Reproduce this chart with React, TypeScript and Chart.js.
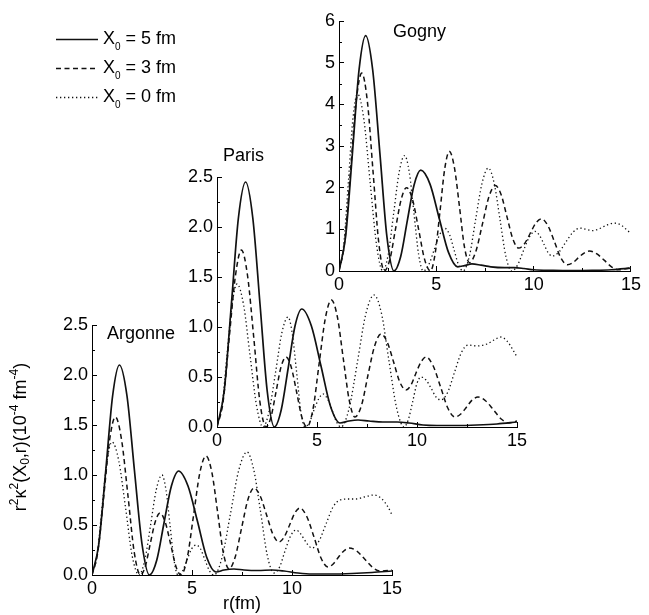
import React, { useEffect, useRef } from 'react';
import { Chart, registerables } from 'chart.js';

Chart.register(...registerables);

type Pt = [number, number];

const FIG_W = 649;
const FIG_H = 615;
const FONT = '"Liberation Sans", Arial, Helvetica, sans-serif';

// ---------- data ----------
const panelNames = ['Argonne', 'Paris', 'Gogny'];
const legendValues = ['5', '3', '0']; // X0 values in fm
const xTickStep = 5;
const xMax = 15;
const xMinorTicks = [2.5, 7.5, 12.5];
const yMinorSmall = [0.25, 0.75, 1.25, 1.75, 2.25];
const yMinorGogny = [0.5, 1.5, 2.5, 3.5, 4.5, 5.5];
const xAxisTitle = 'r(fm)';
// y title pieces: [text, kind] with kind n = normal, p = superscript, b = subscript
const yAxisTitle: [string, string][] = [
  ['r', 'n'], ['2', 'p'], ['κ', 'n'], ['2', 'p'], ['(X', 'n'], ['0', 'b'], [',r)(10', 'n'],
  ['-4', 'p'], [' fm', 'n'], ['-4', 'p'], [')', 'n'],
];

const argonneSolid: Pt[] = [
  [0, 0], [0.34, 0.31], [0.69, 1.05], [1.03, 1.79], [1.37, 2.1], [1.75, 1.79], [2.12, 1.05], [2.5, 0.31], [2.87, 0],
  [3.24, 0.15], [3.6, 0.52], [3.97, 0.89], [4.33, 1.04], [4.8, 0.89], [5.27, 0.54], [5.73, 0.18], [6.2, 0.03],
  [6.6, 0.05], [7.1, 0.06], [7.6, 0.05], [8.3, 0.045], [9.0, 0.05], [9.6, 0.04], [10.3, 0.02], [11, 0.01],
  [12, 0.01], [13, 0.015], [14, 0.025], [15, 0.04],
];
const argonneDashed: Pt[] = [
  [0, 0], [0.29, 0.23], [0.59, 0.79], [0.88, 1.35], [1.17, 1.58], [1.48, 1.35], [1.8, 0.79], [2.11, 0.23], [2.42, 0],
  [2.67, 0.09], [2.91, 0.31], [3.16, 0.53], [3.4, 0.62], [3.66, 0.53], [3.93, 0.31], [4.19, 0.09], [4.45, 0],
  [4.76, 0.17], [5.08, 0.6], [5.39, 1.02], [5.7, 1.19], [5.99, 1.03], [6.28, 0.63], [6.56, 0.23], [6.85, 0.06],
  [7.16, 0.18], [7.48, 0.47], [7.79, 0.75], [8.1, 0.87], [8.41, 0.79], [8.73, 0.6], [9.04, 0.41], [9.35, 0.33],
  [9.61, 0.38], [9.88, 0.5], [10.14, 0.62], [10.4, 0.67], [10.75, 0.58], [11.1, 0.38], [11.45, 0.17], [11.8, 0.08],
  [12.06, 0.11], [12.33, 0.18], [12.59, 0.24], [12.85, 0.27], [13.24, 0.24], [13.63, 0.16], [14.01, 0.08], [14.4, 0.04],
  [15, 0.05],
];
const argonneDotted: Pt[] = [
  [0, 0], [0.25, 0.19], [0.5, 0.67], [0.75, 1.14], [1.0, 1.33], [1.34, 1.14], [1.68, 0.67], [2.01, 0.19], [2.35, 0],
  [2.64, 0.15], [2.93, 0.5], [3.21, 0.85], [3.5, 1.0], [3.7, 0.85], [3.9, 0.5], [4.1, 0.15], [4.3, 0],
  [4.53, 0.04], [4.75, 0.15], [4.98, 0.26], [5.2, 0.3], [5.43, 0.26], [5.65, 0.15], [5.88, 0.04], [6.1, 0],
  [6.51, 0.18], [6.93, 0.62], [7.34, 1.05], [7.75, 1.23], [8.09, 1.05], [8.43, 0.63], [8.76, 0.2], [9.1, 0.02],
  [9.38, 0.08], [9.65, 0.24], [9.93, 0.39], [10.2, 0.45], [10.4, 0.42], [10.6, 0.36], [10.8, 0.3], [11.0, 0.27],
  [11.35, 0.34], [11.7, 0.51], [12.05, 0.68], [12.4, 0.75], [12.8, 0.76], [13.2, 0.76], [13.6, 0.78], [14.1, 0.8],
  [14.5, 0.76], [14.8, 0.68], [15, 0.6],
];

const parisSolid: Pt[] = [
  [0, 0], [0.36, 0.36], [0.72, 1.23], [1.07, 2.09], [1.43, 2.45], [1.79, 2.09], [2.15, 1.23], [2.51, 0.36], [2.87, 0],
  [3.21, 0.17], [3.56, 0.59], [3.9, 1.01], [4.24, 1.18], [4.72, 1.01], [5.2, 0.61], [5.67, 0.21], [6.15, 0.04],
  [6.6, 0.06], [7.05, 0.07], [7.6, 0.06], [8.3, 0.05], [9.0, 0.05], [9.6, 0.04], [10.3, 0.02], [11, 0.015],
  [12, 0.015], [13, 0.02], [14, 0.03], [15, 0.05],
];
const parisDashed: Pt[] = [
  [0, 0], [0.31, 0.26], [0.61, 0.89], [0.92, 1.51], [1.22, 1.77], [1.53, 1.51], [1.84, 0.89], [2.14, 0.26], [2.45, 0],
  [2.7, 0.1], [2.95, 0.35], [3.2, 0.6], [3.45, 0.7], [3.71, 0.6], [3.98, 0.35], [4.24, 0.1], [4.5, 0],
  [4.81, 0.19], [5.11, 0.64], [5.42, 1.09], [5.72, 1.27], [6.02, 1.1], [6.31, 0.69], [6.61, 0.27], [6.9, 0.1],
  [7.23, 0.22], [7.55, 0.52], [7.88, 0.81], [8.2, 0.93], [8.51, 0.85], [8.83, 0.65], [9.14, 0.45], [9.45, 0.37],
  [9.7, 0.42], [9.95, 0.54], [10.2, 0.65], [10.45, 0.7], [10.81, 0.61], [11.18, 0.4], [11.54, 0.19], [11.9, 0.1],
  [12.19, 0.13], [12.48, 0.2], [12.76, 0.27], [13.05, 0.3], [13.44, 0.26], [13.83, 0.17], [14.21, 0.08], [14.6, 0.04],
  [15, 0.06],
];
const parisDotted: Pt[] = [
  [0, 0], [0.25, 0.21], [0.5, 0.72], [0.75, 1.22], [1.0, 1.43], [1.33, 1.22], [1.65, 0.72], [1.98, 0.21], [2.3, 0],
  [2.61, 0.16], [2.93, 0.55], [3.24, 0.94], [3.55, 1.1], [3.76, 0.94], [3.98, 0.55], [4.19, 0.16], [4.4, 0],
  [4.63, 0.05], [4.85, 0.17], [5.08, 0.28], [5.3, 0.33], [5.53, 0.28], [5.75, 0.17], [5.98, 0.05], [6.2, 0],
  [6.61, 0.19], [7.03, 0.66], [7.44, 1.13], [7.85, 1.32], [8.23, 1.13], [8.6, 0.66], [8.98, 0.19], [9.35, 0],
  [9.56, 0.07], [9.78, 0.25], [9.99, 0.43], [10.2, 0.5], [10.45, 0.47], [10.7, 0.39], [10.95, 0.3], [11.2, 0.27],
  [11.54, 0.35], [11.88, 0.55], [12.21, 0.74], [12.55, 0.82], [13.0, 0.81], [13.5, 0.83], [13.85, 0.87], [14.2, 0.9],
  [14.5, 0.86], [14.8, 0.77], [15, 0.7],
];

const gognySolid: Pt[] = [
  [0, 0], [0.34, 0.83], [0.69, 2.83], [1.03, 4.83], [1.37, 5.65], [1.73, 4.83], [2.1, 2.83], [2.46, 0.83], [2.82, 0],
  [3.17, 0.35], [3.51, 1.21], [3.86, 2.07], [4.2, 2.42], [4.68, 2.08], [5.15, 1.26], [5.63, 0.44], [6.1, 0.1],
  [6.45, 0.13], [6.83, 0.17], [7.3, 0.14], [7.8, 0.1], [8.5, 0.08], [9.0, 0.08], [9.5, 0.06], [10, 0.03],
  [11, 0.015], [12, 0.01], [13, 0.015], [14, 0.03], [15, 0.07],
];
const gognyDashed: Pt[] = [
  [0, 0], [0.29, 0.69], [0.59, 2.38], [0.88, 4.06], [1.17, 4.75], [1.46, 4.06], [1.75, 2.38], [2.04, 0.69], [2.33, 0],
  [2.62, 0.29], [2.9, 1.0], [3.19, 1.71], [3.47, 2.0], [3.78, 1.71], [4.09, 1.0], [4.39, 0.29], [4.7, 0],
  [4.94, 0.42], [5.19, 1.44], [5.43, 2.45], [5.67, 2.87], [5.93, 2.48], [6.19, 1.54], [6.44, 0.59], [6.7, 0.2],
  [7.03, 0.47], [7.37, 1.13], [7.7, 1.78], [8.03, 2.05], [8.33, 1.83], [8.63, 1.3], [8.93, 0.77], [9.23, 0.55],
  [9.52, 0.65], [9.82, 0.9], [10.11, 1.15], [10.4, 1.25], [10.73, 1.09], [11.07, 0.7], [11.4, 0.31], [11.73, 0.15],
  [12.02, 0.2], [12.3, 0.32], [12.59, 0.43], [12.87, 0.48], [13.25, 0.41], [13.62, 0.26], [14.0, 0.1], [14.37, 0.03],
  [15, 0.08],
];
const gognyDotted: Pt[] = [
  [0, 0], [0.24, 0.62], [0.48, 2.13], [0.71, 3.63], [0.95, 4.25], [1.28, 3.63], [1.6, 2.13], [1.93, 0.62], [2.25, 0],
  [2.53, 0.4], [2.81, 1.39], [3.09, 2.37], [3.37, 2.77], [3.61, 2.37], [3.85, 1.39], [4.09, 0.4], [4.33, 0],
  [4.61, 0.15], [4.89, 0.51], [5.17, 0.87], [5.45, 1.02], [5.68, 0.87], [5.91, 0.51], [6.14, 0.15], [6.37, 0],
  [6.7, 0.36], [7.02, 1.24], [7.35, 2.11], [7.67, 2.47], [7.97, 2.11], [8.27, 1.24], [8.57, 0.36], [8.87, 0],
  [9.17, 0.14], [9.47, 0.48], [9.77, 0.81], [10.07, 0.95], [10.29, 0.86], [10.51, 0.66], [10.73, 0.45], [10.95, 0.36],
  [11.31, 0.46], [11.66, 0.7], [12.02, 0.93], [12.37, 1.03], [12.7, 1.0], [13.03, 0.97], [13.4, 1.02], [13.75, 1.1],
  [14.12, 1.15], [14.5, 1.1], [14.8, 0.98], [15, 0.9],
];

// ---------- styles ----------
const lineStyles = [
  { width: 1.7, dash: [] as number[] },
  { width: 1.5, dash: [5, 3.5] },
  { width: 1.3, dash: [1.3, 2.7] },
];
const INK = '#111';

interface PanelSpec {
  name: string;
  series: Pt[][];
  yMax: number;
  yStep: number;
  yDecimals: number;
  yMinor: number[];
  area: { l: number; t: number; r: number; b: number };
  yAxisW: number;
  xAxisH: number;
  label: { dx: number; dy: number };
  yTitle?: boolean;
  xTitle?: string;
  legend?: boolean;
}

const panels: PanelSpec[] = [
  {
    name: panelNames[0], series: [argonneSolid, argonneDashed, argonneDotted],
    yMax: 2.5, yStep: 0.5, yDecimals: 1, yMinor: yMinorSmall,
    area: { l: 92, t: 325, r: 392, b: 575 }, yAxisW: 84, xAxisH: 40,
    label: { dx: 15, dy: 9 },
    yTitle: true, xTitle: xAxisTitle,
  },
  {
    name: panelNames[1], series: [parisSolid, parisDashed, parisDotted],
    yMax: 2.5, yStep: 0.5, yDecimals: 1, yMinor: yMinorSmall,
    area: { l: 217, t: 177, r: 517, b: 427 }, yAxisW: 40, xAxisH: 30,
    label: { dx: 6, dy: -21 },
  },
  {
    name: panelNames[2], series: [gognySolid, gognyDashed, gognyDotted],
    yMax: 6, yStep: 1, yDecimals: 0, yMinor: yMinorGogny,
    area: { l: 339, t: 21, r: 639, b: 271 }, yAxisW: 40, xAxisH: 30,
    label: { dx: 54, dy: 11 },
    legend: true,
  },
];

function makePlugins(spec: PanelSpec) {
  const minor = {
    id: 'minorTicks',
    afterDraw(chart: any) {
      const { ctx, chartArea: a, scales } = chart;
      const x = scales.x, y = scales.y;
      ctx.save();
      ctx.strokeStyle = '#000';
      ctx.lineWidth = 1;
      ctx.beginPath();
      xMinorTicks.forEach((v) => {
        const px = Math.round(x.getPixelForValue(v)) + 0.5;
        ctx.moveTo(px, a.bottom);
        ctx.lineTo(px, a.bottom - 3);
      });
      spec.yMinor.forEach((v) => {
        const py = Math.round(y.getPixelForValue(v)) + 0.5;
        ctx.moveTo(a.left, py);
        ctx.lineTo(a.left + 3, py);
      });
      ctx.stroke();
      ctx.restore();
    },
  };
  const label = {
    id: 'panelLabel',
    afterDraw(chart: any) {
      const { ctx, chartArea: a } = chart;
      ctx.save();
      ctx.font = `18px ${FONT}`;
      ctx.fillStyle = '#000';
      ctx.textAlign = 'left';
      ctx.textBaseline = 'middle';
      ctx.fillText(spec.name, a.left + spec.label.dx, a.top + spec.label.dy);
      ctx.restore();
    },
  };
  const list: any[] = [minor, label];
  if (spec.yTitle) {
    list.push({
      id: 'richYTitle',
      afterDraw(chart: any) {
        const { ctx, chartArea: a } = chart;
        const fontFor = (k: string) => (k === 'n' ? `18px ${FONT}` : `12px ${FONT}`);
        const shift = (k: string) => (k === 'p' ? -6 : k === 'b' ? 5 : 0);
        ctx.save();
        let total = 0;
        yAxisTitle.forEach(([t, k]) => { ctx.font = fontFor(k); total += ctx.measureText(t).width; });
        ctx.translate(21, a.top + 112);
        ctx.rotate(-Math.PI / 2);
        ctx.fillStyle = '#000';
        ctx.textBaseline = 'middle';
        ctx.textAlign = 'left';
        let x = -total / 2;
        yAxisTitle.forEach(([t, k]) => {
          ctx.font = fontFor(k);
          ctx.fillText(t, x, shift(k));
          x += ctx.measureText(t).width;
        });
        ctx.restore();
      },
    });
  }
  if (spec.legend) {
    list.push({
      id: 'figLegend',
      afterDraw(chart: any) {
        const { ctx } = chart;
        ctx.save();
        legendValues.forEach((val, i) => {
          const y = 39 + i * 29;
          const st = lineStyles[i];
          ctx.strokeStyle = INK;
          ctx.lineWidth = st.width;
          ctx.setLineDash(st.dash);
          ctx.beginPath();
          ctx.moveTo(56, y + 0.5);
          ctx.lineTo(98, y + 0.5);
          ctx.stroke();
          ctx.setLineDash([]);
          ctx.fillStyle = '#000';
          ctx.textBaseline = 'middle';
          ctx.textAlign = 'left';
          ctx.font = `18px ${FONT}`;
          let x = 103;
          ctx.fillText('X', x, y);
          x += ctx.measureText('X').width;
          ctx.font = `10px ${FONT}`;
          ctx.fillText('0', x, y + 8);
          x += ctx.measureText('0').width;
          ctx.font = `18px ${FONT}`;
          ctx.fillText(` = ${val} fm`, x, y);
        });
        ctx.restore();
      },
    });
  }
  return list;
}

function buildChart(canvas: HTMLCanvasElement, spec: PanelSpec) {
  const datasets = spec.series.map((pts, i) => ({
    label: `X0 = ${legendValues[i]} fm`,
    data: pts.map(([x, y]) => ({ x, y })),
    borderColor: INK,
    borderWidth: lineStyles[i].width,
    borderDash: lineStyles[i].dash,
    pointRadius: 0,
    fill: false,
    cubicInterpolationMode: 'monotone' as const,
  }));
  const tickFont = { family: FONT, size: 18 };
  const grid = {
    display: true,
    drawOnChartArea: false,
    drawTicks: true,
    tickLength: -5,
    color: '#000',
    tickColor: '#000',
    lineWidth: 1,
  };
  const border = { display: true, color: '#000', width: 1 };
  return new Chart(canvas, {
    type: 'line',
    data: { datasets },
    options: {
      animation: false,
      responsive: false,
      devicePixelRatio: 1,
      events: [],
      layout: {
        padding: {
          left: spec.area.l - spec.yAxisW,
          top: spec.area.t,
          right: FIG_W - spec.area.r,
          bottom: FIG_H - spec.area.b - spec.xAxisH,
        },
      },
      plugins: {
        legend: { display: false },
        tooltip: { enabled: false },
        title: { display: false },
      },
      scales: {
        x: {
          type: 'linear',
          min: 0,
          max: xMax,
          grid,
          border,
          ticks: {
            stepSize: xTickStep,
            color: '#000',
            font: tickFont,
            padding: 8,
            maxRotation: 0,
            autoSkip: false,
            callback: (v: any) => String(v),
          },
          title: spec.xTitle
            ? { display: true, text: spec.xTitle, color: '#000', font: { family: FONT, size: 18 }, padding: { top: 0, bottom: 0 } }
            : { display: false },
          afterFit: (s: any) => { s.height = spec.xAxisH; },
        },
        y: {
          type: 'linear',
          min: 0,
          max: spec.yMax,
          grid,
          border,
          ticks: {
            stepSize: spec.yStep,
            color: '#000',
            font: tickFont,
            padding: 9,
            autoSkip: false,
            callback: (v: any) => Number(v).toFixed(spec.yDecimals),
          },
          afterFit: (s: any) => { s.width = spec.yAxisW; },
        },
      },
    } as any,
    plugins: makePlugins(spec),
  });
}

function Panel({ spec }: { spec: PanelSpec }) {
  const ref = useRef<HTMLCanvasElement | null>(null);
  useEffect(() => {
    if (!ref.current) return;
    const chart = buildChart(ref.current, spec);
    return () => chart.destroy();
  }, [spec]);
  return (
    <canvas
      ref={ref}
      width={FIG_W}
      height={FIG_H}
      style={{ position: 'absolute', left: 0, top: 0, width: FIG_W, height: FIG_H, display: 'block' }}
    />
  );
}

export default function App() {
  return (
    <div style={{ position: 'absolute', left: 0, top: 0, width: FIG_W, height: FIG_H, background: '#fff' }}>
      {panels.map((p) => (
        <Panel key={p.name} spec={p} />
      ))}
    </div>
  );
}
